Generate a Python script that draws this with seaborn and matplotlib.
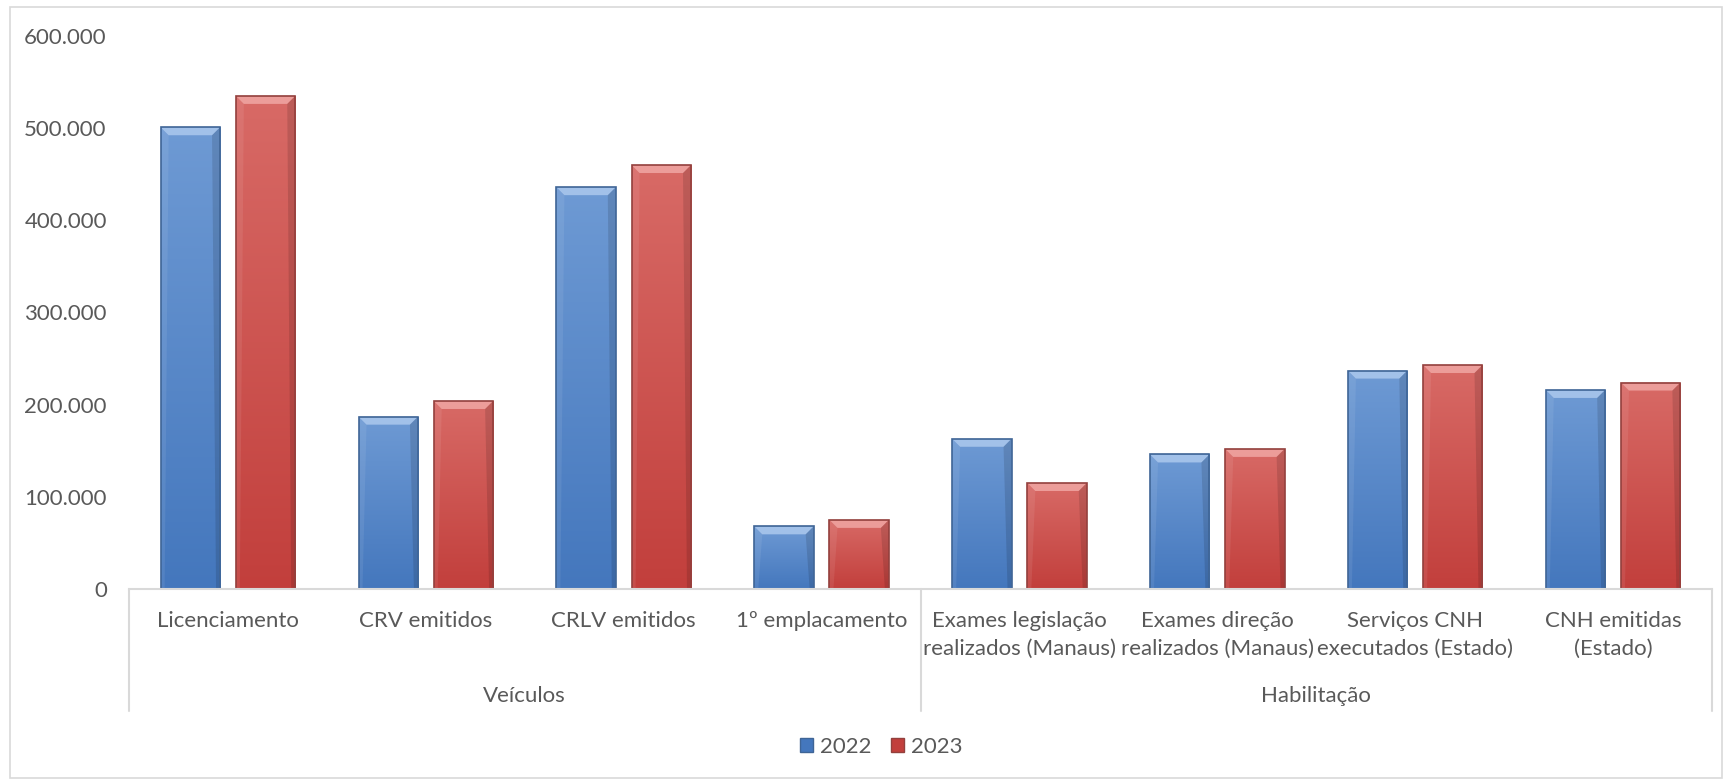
import matplotlib
matplotlib.use("Agg")
import matplotlib.pyplot as plt
import numpy as np
import pandas as pd
import seaborn as sns
from matplotlib.colors import LinearSegmentedColormap
from matplotlib.patches import Polygon, Rectangle, Patch
from matplotlib.ticker import FuncFormatter
import matplotlib.transforms as mtransforms

# data
categories = [
    "Licenciamento",
    "CRV emitidos",
    "CRLV emitidos",
    "1º emplacamento",
    "Exames legislação\nrealizados (Manaus)",
    "Exames direção\nrealizados (Manaus)",
    "Serviços CNH\nexecutados (Estado)",
    "CNH emitidas\n(Estado)",
]
groups = ["Veículos", "Habilitação"]
group_sizes = [4, 4]
years = ["2022", "2023"]
values_2022 = [501000, 187000, 436000, 68000, 163000, 146000, 237000, 216000]
values_2023 = [535000, 204000, 460000, 75000, 115000, 152000, 243000, 224000]

TEXT = "#595959"
GRID = "#D9D9D9"
COLORS = {
    "2022": {"top": "#6E9AD4", "bottom": "#4477BD", "edge": "#3F6596", "bevel": "#A9C6EC"},
    "2023": {"top": "#D86A66", "bottom": "#C23F3C", "edge": "#93403D", "bevel": "#EFA3A0"},
}

df = pd.DataFrame(
    {
        "categoria": categories * 2,
        "ano": [years[0]] * len(categories) + [years[1]] * len(categories),
        "valor": values_2022 + values_2023,
    }
)

sns.set_theme(style="white")
plt.rcParams["font.family"] = ["Lato", "DejaVu Sans"]

fig = plt.figure(figsize=(17.23, 7.79), dpi=100)
ax = fig.add_axes([129 / 1723, 1 - 589 / 779, (1712 - 129) / 1723, (589 - 36) / 779])

sns.barplot(
    data=df,
    x="categoria",
    y="valor",
    hue="ano",
    order=categories,
    hue_order=years,
    palette=[COLORS[y]["bottom"] for y in years],
    width=0.76,
    gap=0.21,
    ax=ax,
    legend=False,
)

ax.set_ylim(0, 600000)
ax.set_xlim(-0.5, len(categories) - 0.5)
ax.set_yticks(np.arange(0, 600001, 100000))
ax.yaxis.set_major_formatter(FuncFormatter(lambda v, _: f"{v:,.0f}".replace(",", ".")))
ax.tick_params(axis="y", length=0, pad=16, labelsize=16, labelcolor=TEXT)
ax.tick_params(axis="x", length=0, pad=16, labelsize=16, labelcolor=TEXT)
for lbl in ax.get_xticklabels():
    lbl.set_linespacing(1.45)
ax.set_xlabel("")
ax.set_ylabel("")
for side in ["top", "right", "left"]:
    ax.spines[side].set_visible(False)
ax.spines["bottom"].set_color(GRID)
ax.spines["bottom"].set_linewidth(1.5)

# bevel + gradient look for each bar
px_x = 1.0 / 197.9
px_y = 100000 / 92.2
for i, patch in enumerate(list(ax.patches)):
    year = years[i // len(categories)]
    c = COLORS[year]
    x0, w, h = patch.get_x(), patch.get_width(), patch.get_height()
    if h <= 0:
        continue
    cmap = LinearSegmentedColormap.from_list("g", [c["bottom"], c["top"]])
    grad = np.linspace(0, 1, 256).reshape(-1, 1)
    img = ax.imshow(
        grad, extent=[x0, x0 + w, 0, h], origin="lower", aspect="auto",
        cmap=cmap, zorder=patch.get_zorder(), interpolation="bicubic",
    )
    img.set_clip_path(patch)
    patch.set_facecolor("none")
    patch.set_edgecolor(c["edge"])
    patch.set_linewidth(1.2)
    patch.set_zorder(patch.get_zorder() + 0.2)
    dx, dy = 8 * px_x, 8 * px_y
    top = Polygon(
        [(x0, h), (x0 + w, h), (x0 + w - dx, h - dy), (x0 + dx, h - dy)],
        closed=True, facecolor=c["bevel"], edgecolor="none", alpha=0.9,
        zorder=patch.get_zorder() - 0.1,
    )
    ax.add_patch(top)
    right = Polygon(
        [(x0 + w, h), (x0 + w, 0), (x0 + w - 0.5 * dx, 0), (x0 + w - dx, h - dy)],
        closed=True, facecolor="black", edgecolor="none", alpha=0.12,
        zorder=patch.get_zorder() - 0.1,
    )
    ax.add_patch(right)
    left = Polygon(
        [(x0, h), (x0, 0), (x0 + 0.5 * dx, 0), (x0 + dx, h - dy)],
        closed=True, facecolor="white", edgecolor="none", alpha=0.08,
        zorder=patch.get_zorder() - 0.1,
    )
    ax.add_patch(left)

ax.set_ylim(0, 600000)
ax.set_xlim(-0.5, len(categories) - 0.5)

# multi-level category axis
trans = mtransforms.blended_transform_factory(ax.transData, ax.transAxes)
sep_bottom = -(711 - 589) / (589 - 36)
edges = np.concatenate([[0], np.cumsum(group_sizes)]) - 0.5
for e in edges:
    ax.plot([e, e], [0, sep_bottom], transform=trans, color=GRID, lw=1.5, clip_on=False)
group_y = -(696 - 589) / (589 - 36)
for g, a, b in zip(groups, edges[:-1], edges[1:]):
    ax.text((a + b) / 2, group_y, g, transform=trans, ha="center", va="center",
            fontsize=16, color=TEXT)

# legend
handles = [Patch(facecolor=COLORS[y]["bottom"], edgecolor=COLORS[y]["edge"], label=y) for y in years]
fig.legend(
    handles=handles, loc="center", bbox_to_anchor=(881 / 1723, 1 - 747 / 779),
    ncol=2, frameon=False, fontsize=16, labelcolor=TEXT,
    handlelength=0.6, handleheight=0.6, handletextpad=0.3, columnspacing=0.9,
)

# chart frame
fig.patches.append(
    Rectangle((10 / 1723, 1 / 779), (1722 - 10) / 1723, (779 - 8) / 779,
              transform=fig.transFigure, fill=False, edgecolor=GRID, lw=1.2)
)

fig.savefig("out.png", dpi=100)
